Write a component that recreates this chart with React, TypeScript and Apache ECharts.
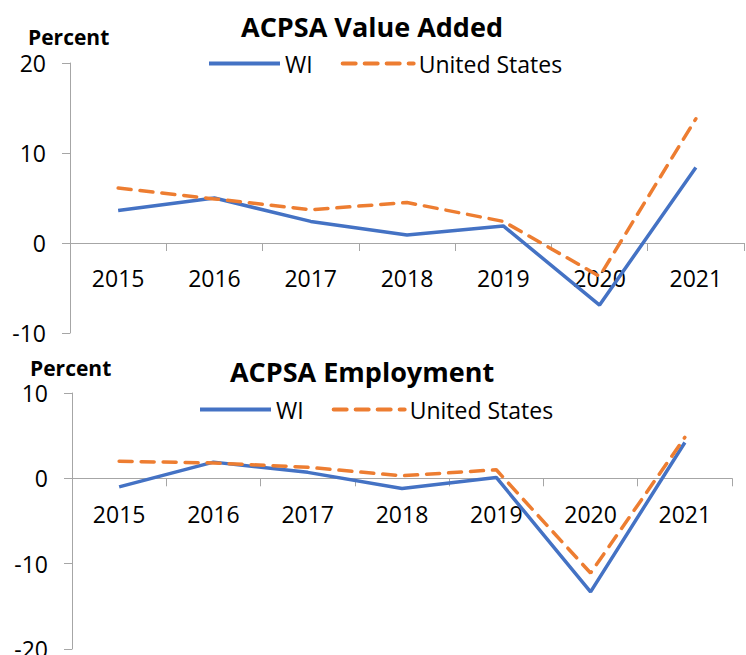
import React, { useEffect, useRef } from "react";
import * as echarts from "echarts";

const years = ["2015", "2016", "2017", "2018", "2019", "2020", "2021"];
const vaWI = [3.6, 5.0, 2.4, 0.9, 1.9, -6.9, 8.4];
const vaUS = [6.1, 4.9, 3.7, 4.5, 2.4, -3.7, 13.8];
const empWI = [-1.0, 1.9, 0.7, -1.2, 0.1, -13.3, 4.2];
const empUS = [2.0, 1.8, 1.3, 0.3, 1.0, -11.1, 4.8];
const seriesNames = ["WI", "United States"];
const titles = ["ACPSA Value Added", "ACPSA Employment"];
const axisLabelText = "Percent";

const FONT = "'Open Sans', sans-serif";
const BLUE = "#4472C4";
const ORANGE = "#ED7D31";
const AXIS = "#a6a6a6";

export default function App() {
  const ref = useRef<HTMLDivElement>(null);
  useEffect(() => {
    if (!ref.current) return;
    const chart = echarts.init(ref.current, null, { renderer: "svg" });
    const xAxisBase = (gridIndex: number, offset: number, margin: number) => ({
      type: "category" as const,
      gridIndex,
      data: years,
      position: "bottom" as const,
      offset,
      boundaryGap: true,
      axisLine: { onZero: false, lineStyle: { color: AXIS, width: 1 } },
      axisTick: { show: true, length: 8, lineStyle: { color: AXIS } },
      axisLabel: { color: "#000", fontSize: 23, fontFamily: FONT, margin },
      splitLine: { show: false },
    });
    const yAxisBase = (gridIndex: number, min: number, max: number) => ({
      type: "value" as const,
      gridIndex,
      min,
      max,
      interval: 10,
      axisLine: { show: true, lineStyle: { color: AXIS, width: 1 } },
      axisTick: { show: true, length: 8, lineStyle: { color: AXIS } },
      axisLabel: { color: "#000", fontSize: 23, fontFamily: FONT, margin: 24 },
      splitLine: { show: false },
    });
    const lineSeries = (name: string, data: number[], idx: number, dashed: boolean) => ({
      type: "line" as const,
      name,
      data,
      xAxisIndex: idx,
      yAxisIndex: idx,
      symbol: "none",
      showSymbol: false,
      lineStyle: dashed
        ? { color: ORANGE, width: 3.5, type: [13, 9], cap: "round" as const }
        : { color: BLUE, width: 3.5 },
      itemStyle: { color: dashed ? ORANGE : BLUE },
      z: 3,
    });
    const legendBase = (left: number, top: number) => ({
      left,
      top,
      padding: 0,
      orient: "horizontal" as const,
      itemWidth: 71,
      itemHeight: 20,
      itemGap: 28,
      data: seriesNames,
      itemStyle: { opacity: 0 },
      lineStyle: { width: 4 },
      textStyle: { color: "#000", fontSize: 23, fontFamily: FONT, padding: [0, 0, 0, 0] },
      selectedMode: false,
    });
    chart.setOption({
      animation: false,
      backgroundColor: "#fff",
      title: [
        {
          text: titles[0],
          left: 367,
          top: 8,
          textAlign: "center",
          textStyle: { fontSize: 27, fontWeight: "bold", fontFamily: FONT, color: "#000" },
        },
        {
          text: titles[1],
          left: 357,
          top: 353,
          textAlign: "center",
          textStyle: { fontSize: 27, fontWeight: "bold", fontFamily: FONT, color: "#000" },
        },
      ],
      legend: [legendBase(207, 52), legendBase(198, 398)],
      grid: [
        { left: 70, top: 63, width: 674, height: 270, outerBoundsMode: "none", containLabel: false },
        { left: 72, top: 393, width: 660, height: 256, outerBoundsMode: "none", containLabel: false },
      ],
      xAxis: [xAxisBase(0, -90, 23), xAxisBase(1, -170.7, 24)],
      yAxis: [yAxisBase(0, -10, 20), yAxisBase(1, -20, 10)],
      series: [
        lineSeries(seriesNames[0], vaWI, 0, false),
        lineSeries(seriesNames[1], vaUS, 0, true),
        lineSeries(seriesNames[0], empWI, 1, false),
        lineSeries(seriesNames[1], empUS, 1, true),
      ],
      graphic: [
        {
          type: "text",
          left: 28,
          top: 26,
          style: { text: axisLabelText, fontSize: 21, fontWeight: "bold", fontFamily: FONT, fill: "#000" },
        },
        {
          type: "text",
          left: 30,
          top: 357,
          style: { text: axisLabelText, fontSize: 21, fontWeight: "bold", fontFamily: FONT, fill: "#000" },
        },
      ],
    });
    return () => chart.dispose();
  }, []);
  return (
    <div
      ref={ref}
      style={{ position: "fixed", left: 0, top: 0, width: 746, height: 655 }}
    />
  );
}
